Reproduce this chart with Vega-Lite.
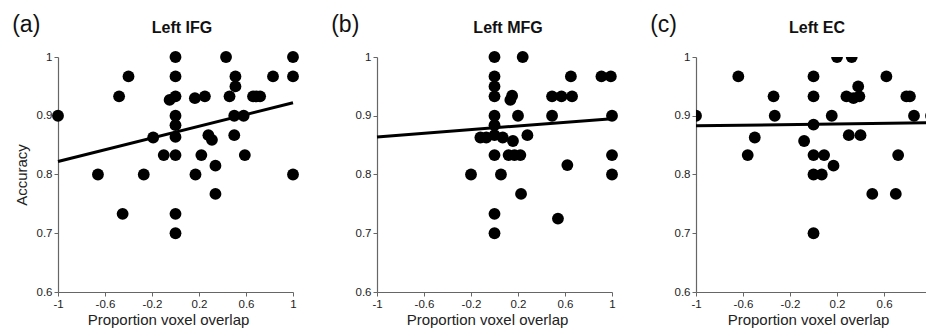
{
  "$schema": "https://vega.github.io/schema/vega-lite/v6.json",
  "padding": {"left": 12, "top": 13, "right": 0, "bottom": 0},
  "background": "white",
  "config": {
    "view": {"stroke": null},
    "font": "Liberation Sans",
    "concat": {"spacing": 32},
    "axis": {
      "grid": false, "domainColor": "#666", "tickColor": "#666", "domainWidth": 1.2,
      "labelColor": "#222", "labelFontSize": 11.5, "labelFont": "Liberation Sans",
      "titleFontSize": 15, "titleFontWeight": "normal", "titleColor": "#222", "titleFont": "Liberation Sans",
      "tickSize": 4, "labelPadding": 2, "titlePadding": 3, "labelFlush": false
    }
  },
  "datasets": {
    "a": [
      {"overlap": -1, "accuracy": 0.9}, {"overlap": -0.66, "accuracy": 0.8}, {"overlap": -0.48, "accuracy": 0.933},
      {"overlap": -0.4, "accuracy": 0.967}, {"overlap": -0.45, "accuracy": 0.733}, {"overlap": -0.27, "accuracy": 0.8},
      {"overlap": -0.19, "accuracy": 0.863}, {"overlap": -0.1, "accuracy": 0.833}, {"overlap": 0, "accuracy": 0.833},
      {"overlap": 0, "accuracy": 1}, {"overlap": 0, "accuracy": 0.967}, {"overlap": 0, "accuracy": 0.933},
      {"overlap": -0.05, "accuracy": 0.927}, {"overlap": 0, "accuracy": 0.9}, {"overlap": 0, "accuracy": 0.884},
      {"overlap": 0, "accuracy": 0.864}, {"overlap": 0, "accuracy": 0.733}, {"overlap": 0, "accuracy": 0.7},
      {"overlap": 0.17, "accuracy": 0.8}, {"overlap": 0.165, "accuracy": 0.93}, {"overlap": 0.25, "accuracy": 0.933},
      {"overlap": 0.22, "accuracy": 0.833}, {"overlap": 0.28, "accuracy": 0.867}, {"overlap": 0.31, "accuracy": 0.859},
      {"overlap": 0.34, "accuracy": 0.815}, {"overlap": 0.34, "accuracy": 0.767}, {"overlap": 0.43, "accuracy": 1},
      {"overlap": 0.46, "accuracy": 0.933}, {"overlap": 0.51, "accuracy": 0.967}, {"overlap": 0.51, "accuracy": 0.95},
      {"overlap": 0.5, "accuracy": 0.9}, {"overlap": 0.5, "accuracy": 0.867}, {"overlap": 0.58, "accuracy": 0.9},
      {"overlap": 0.59, "accuracy": 0.833}, {"overlap": 0.66, "accuracy": 0.933}, {"overlap": 0.69, "accuracy": 0.933},
      {"overlap": 0.72, "accuracy": 0.933}, {"overlap": 0.83, "accuracy": 0.967}, {"overlap": 1, "accuracy": 1},
      {"overlap": 1, "accuracy": 0.967}, {"overlap": 1, "accuracy": 0.8}
    ],
    "b": [
      {"overlap": -0.2, "accuracy": 0.8}, {"overlap": -0.12, "accuracy": 0.863}, {"overlap": -0.07, "accuracy": 0.863},
      {"overlap": 0, "accuracy": 0.867}, {"overlap": 0.07, "accuracy": 0.863}, {"overlap": 0, "accuracy": 1},
      {"overlap": 0, "accuracy": 0.967}, {"overlap": 0, "accuracy": 0.95}, {"overlap": 0, "accuracy": 0.933},
      {"overlap": 0, "accuracy": 0.9}, {"overlap": 0, "accuracy": 0.884}, {"overlap": 0, "accuracy": 0.833},
      {"overlap": 0, "accuracy": 0.733}, {"overlap": 0, "accuracy": 0.7}, {"overlap": 0.24, "accuracy": 1},
      {"overlap": 0.15, "accuracy": 0.934}, {"overlap": 0.135, "accuracy": 0.927}, {"overlap": 0.2, "accuracy": 0.9},
      {"overlap": 0.157, "accuracy": 0.857}, {"overlap": 0.28, "accuracy": 0.867}, {"overlap": 0.12, "accuracy": 0.833},
      {"overlap": 0.17, "accuracy": 0.833}, {"overlap": 0.22, "accuracy": 0.833}, {"overlap": 0.055, "accuracy": 0.8},
      {"overlap": 0.226, "accuracy": 0.767}, {"overlap": 0.65, "accuracy": 0.967}, {"overlap": 0.91, "accuracy": 0.967},
      {"overlap": 0.99, "accuracy": 0.967}, {"overlap": 0.49, "accuracy": 0.933}, {"overlap": 0.57, "accuracy": 0.933},
      {"overlap": 0.66, "accuracy": 0.933}, {"overlap": 0.49, "accuracy": 0.9}, {"overlap": 1, "accuracy": 0.9},
      {"overlap": 0.62, "accuracy": 0.816}, {"overlap": 1, "accuracy": 0.833}, {"overlap": 1, "accuracy": 0.8},
      {"overlap": 0.54, "accuracy": 0.725}
    ],
    "c": [
      {"overlap": -1, "accuracy": 0.9}, {"overlap": -0.64, "accuracy": 0.967}, {"overlap": -0.34, "accuracy": 0.933},
      {"overlap": -0.33, "accuracy": 0.9}, {"overlap": -0.5, "accuracy": 0.863}, {"overlap": -0.56, "accuracy": 0.833},
      {"overlap": -0.08, "accuracy": 0.857}, {"overlap": 0, "accuracy": 0.967}, {"overlap": 0, "accuracy": 0.933},
      {"overlap": 0, "accuracy": 0.885}, {"overlap": 0, "accuracy": 0.833}, {"overlap": 0.09, "accuracy": 0.833},
      {"overlap": 0, "accuracy": 0.8}, {"overlap": 0.07, "accuracy": 0.8}, {"overlap": 0.17, "accuracy": 0.815},
      {"overlap": 0.155, "accuracy": 0.9}, {"overlap": 0.2, "accuracy": 1}, {"overlap": 0.325, "accuracy": 1},
      {"overlap": 0.28, "accuracy": 0.933}, {"overlap": 0.34, "accuracy": 0.93}, {"overlap": 0.38, "accuracy": 0.95},
      {"overlap": 0.39, "accuracy": 0.933}, {"overlap": 0.3, "accuracy": 0.867}, {"overlap": 0.4, "accuracy": 0.867},
      {"overlap": 0.62, "accuracy": 0.967}, {"overlap": 0.5, "accuracy": 0.767}, {"overlap": 0.7, "accuracy": 0.767},
      {"overlap": 0.72, "accuracy": 0.833}, {"overlap": 0.79, "accuracy": 0.933}, {"overlap": 0.82, "accuracy": 0.933},
      {"overlap": 0.855, "accuracy": 0.9}, {"overlap": 1, "accuracy": 0.9}, {"overlap": 0, "accuracy": 0.7}
    ],
    "lineA": [{"overlap": -1, "accuracy": 0.822}, {"overlap": 1, "accuracy": 0.922}],
    "lineB": [{"overlap": -1, "accuracy": 0.864}, {"overlap": 1, "accuracy": 0.895}],
    "lineC": [{"overlap": -1, "accuracy": 0.883}, {"overlap": 1, "accuracy": 0.888}]
  },
  "hconcat": [
    {
      "width": 235, "height": 235,
      "layer": [
        {"data": {"name": "a"}, "mark": {"type": "circle", "size": 140, "opacity": 1, "color": "black"},
         "encoding": {
           "x": {"field": "overlap", "type": "quantitative", "scale": {"domain": [-1, 1], "nice": false},
                 "axis": {"values": [-1, -0.6, -0.2, 0.2, 0.6, 1], "labelExpr": "'' + datum.value", "title": "Proportion voxel overlap", "titleX": 110, "titleAlign": "center"}},
           "y": {"field": "accuracy", "type": "quantitative", "scale": {"domain": [0.6, 1], "nice": false, "zero": false},
                 "axis": {"values": [0.6, 0.7, 0.8, 0.9, 1], "labelExpr": "'' + datum.value", "title": "Accuracy", "titlePadding": 7}}
         }},
        {"data": {"name": "lineA"}, "mark": {"type": "line", "color": "black", "strokeWidth": 3},
         "encoding": {"x": {"field": "overlap", "type": "quantitative"}, "y": {"field": "accuracy", "type": "quantitative"}}},
        {"data": {"values": [{"label": "(a)"}]}, "mark": {"type": "text", "fontSize": 23, "align": "left", "baseline": "alphabetic", "color": "#111"},
         "encoding": {"x": {"datum": -1.39}, "y": {"datum": 1.0426}, "text": {"field": "label"}}},
        {"data": {"values": [{"label": "Left IFG"}]}, "mark": {"type": "text", "fontSize": 16, "fontWeight": "bold", "align": "center", "baseline": "alphabetic", "color": "#111"},
         "encoding": {"x": {"datum": 0.055}, "y": {"datum": 1.041}, "text": {"field": "label"}}}
      ]
    },
    {
      "width": 235, "height": 235,
      "layer": [
        {"data": {"name": "b"}, "mark": {"type": "circle", "size": 140, "opacity": 1, "color": "black"},
         "encoding": {
           "x": {"field": "overlap", "type": "quantitative", "scale": {"domain": [-1, 1], "nice": false},
                 "axis": {"values": [-1, -0.6, -0.2, 0.2, 0.6, 1], "labelExpr": "'' + datum.value", "title": "Proportion voxel overlap", "titleX": 110, "titleAlign": "center"}},
           "y": {"field": "accuracy", "type": "quantitative", "scale": {"domain": [0.6, 1], "nice": false, "zero": false},
                 "axis": {"values": [0.6, 0.7, 0.8, 0.9, 1], "labelExpr": "'' + datum.value", "title": null}}
         }},
        {"data": {"name": "lineB"}, "mark": {"type": "line", "color": "black", "strokeWidth": 3},
         "encoding": {"x": {"field": "overlap", "type": "quantitative"}, "y": {"field": "accuracy", "type": "quantitative"}}},
        {"data": {"values": [{"label": "(b)"}]}, "mark": {"type": "text", "fontSize": 23, "align": "left", "baseline": "alphabetic", "color": "#111"},
         "encoding": {"x": {"datum": -1.39}, "y": {"datum": 1.0426}, "text": {"field": "label"}}},
        {"data": {"values": [{"label": "Left MFG"}]}, "mark": {"type": "text", "fontSize": 16, "fontWeight": "bold", "align": "center", "baseline": "alphabetic", "color": "#111"},
         "encoding": {"x": {"datum": 0.115}, "y": {"datum": 1.041}, "text": {"field": "label"}}}
      ]
    },
    {
      "width": 230, "height": 235,
      "layer": [
        {"data": {"name": "c"}, "mark": {"type": "circle", "size": 140, "opacity": 1, "color": "black", "clip": true},
         "encoding": {
           "x": {"field": "overlap", "type": "quantitative", "scale": {"domain": [-1, 0.957], "nice": false},
                 "axis": {"values": [-1, -0.6, -0.2, 0.2, 0.6], "labelExpr": "'' + datum.value", "title": "Proportion voxel overlap", "titleX": 112, "titleAlign": "center"}},
           "y": {"field": "accuracy", "type": "quantitative", "scale": {"domain": [0.6, 1], "nice": false, "zero": false},
                 "axis": {"values": [0.6, 0.7, 0.8, 0.9, 1], "labelExpr": "'' + datum.value", "title": null}}
         }},
        {"data": {"name": "lineC"}, "mark": {"type": "line", "color": "black", "strokeWidth": 3, "clip": true},
         "encoding": {"x": {"field": "overlap", "type": "quantitative"}, "y": {"field": "accuracy", "type": "quantitative"}}},
        {"data": {"values": [{"label": "(c)"}]}, "mark": {"type": "text", "fontSize": 23, "align": "left", "baseline": "alphabetic", "color": "#111"},
         "encoding": {"x": {"datum": -1.39}, "y": {"datum": 1.0426}, "text": {"field": "label"}}},
        {"data": {"values": [{"label": "Left EC"}]}, "mark": {"type": "text", "fontSize": 16, "fontWeight": "bold", "align": "center", "baseline": "alphabetic", "color": "#111"},
         "encoding": {"x": {"datum": 0.03}, "y": {"datum": 1.041}, "text": {"field": "label"}}}
      ]
    }
  ]
}
